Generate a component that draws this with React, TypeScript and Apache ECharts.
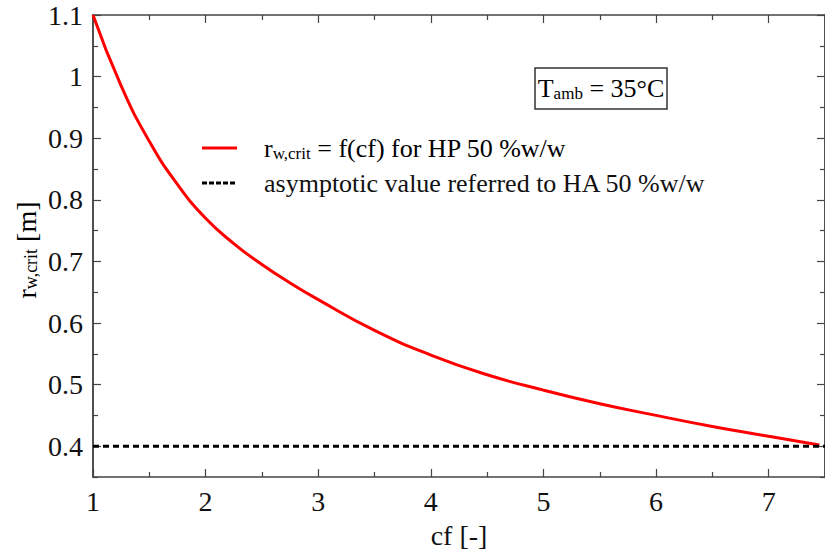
import React, { useEffect, useRef } from "react";
import * as echarts from "echarts";

const cfValues = [1, 1.25, 1.5, 1.75, 2, 2.25, 2.5, 2.75, 3, 3.5, 4, 4.5, 5, 5.5, 6, 6.5, 7, 7.45];
const rwCritValues = [1.1, 0.985, 0.895, 0.825, 0.77, 0.729, 0.695, 0.665, 0.638, 0.588, 0.548, 0.516, 0.491, 0.469, 0.45, 0.432, 0.416, 0.402];
const asymptoteX = [1, 7.5];
const asymptoteY = [0.4, 0.4];
const yMajorTicks = [0.4, 0.5, 0.6, 0.7, 0.8, 0.9, 1, 1.1];
const yMinorTicks = [0.35, 0.45, 0.55, 0.65, 0.75, 0.85, 0.95, 1.05];
const legendLabels = ["r_w,crit = f(cf) for HP 50 %w/w", "asymptotic value referred to HA 50 %w/w"];

const FONT = "Liberation Serif";
const AXIS_COLOR = "#444";
const tickRich = { t: { fontFamily: FONT, fontSize: 28, color: "#111" } };

export default function App() {
  const ref = useRef<HTMLDivElement>(null);
  useEffect(() => {
    if (!ref.current) return;
    const chart = echarts.init(ref.current, null, { renderer: "svg" });
    const yBase = (position: string, ticks: number[], len: number, labels: boolean) => ({
      type: "value",
      position,
      min: 0.35,
      max: 1.1,
      axisLine: { show: true, lineStyle: { color: AXIS_COLOR, width: 1.5 } },
      axisTick: { show: true, inside: true, length: len, customValues: ticks, lineStyle: { color: AXIS_COLOR, width: 1.2 } },
      axisLabel: {
        show: labels,
        customValues: yMajorTicks,
        margin: 10,
        fontFamily: FONT,
        fontSize: 28,
        color: "#111",
        formatter: (v: number) => "{t|" + String(Math.round(v * 10) / 10) + "}",
        rich: tickRich,
      },
      splitLine: { show: false },
    });
    const xBase = (position: string, labels: boolean) => ({
      type: "value",
      position,
      min: 1,
      max: 7.5,
      interval: 1,
      axisLine: { show: true, lineStyle: { color: AXIS_COLOR, width: 1.5 } },
      axisTick: { show: true, inside: true, length: 8, lineStyle: { color: AXIS_COLOR, width: 1.2 } },
      minorTick: { show: true, splitNumber: 2, length: 5, lineStyle: { color: AXIS_COLOR, width: 1.2 } },
      axisLabel: {
        show: labels,
        margin: 10,
        fontFamily: FONT,
        fontSize: 28,
        color: "#111",
        showMaxLabel: false,
        formatter: (v: number) => "{t|" + String(v) + "}",
        rich: tickRich,
      },
      splitLine: { show: false },
      minorSplitLine: { show: false },
    });
    const xAxisBottom: any = xBase("bottom", true);
    xAxisBottom.name = "cf [-]";
    xAxisBottom.nameLocation = "middle";
    xAxisBottom.nameGap = 44;
    xAxisBottom.nameTextStyle = { fontFamily: FONT, fontSize: 28, color: "#111" };

    const legendRich = {
      a: { fontFamily: FONT, fontSize: 26, color: "#111" },
      s: { fontFamily: FONT, fontSize: 17, color: "#111", verticalAlign: "bottom", padding: [10, 0, 0, 0] },
    };
    const [l1main, l1rest] = legendLabels[0].split(" = ");
    const l1sub = l1main.split("_")[1];

    chart.setOption({
      animation: false,
      textStyle: { fontFamily: FONT },
      grid: { left: 93, top: 15, width: 738, height: 467, containLabel: false },
      xAxis: [xAxisBottom, xBase("top", false)],
      yAxis: [
        yBase("left", yMajorTicks, 8, true),
        yBase("left", yMinorTicks, 5, false),
        yBase("right", yMajorTicks, 8, false),
        yBase("right", yMinorTicks, 5, false),
      ],
      series: [
        {
          name: legendLabels[0],
          type: "line",
          data: cfValues.map((x, i) => [x, rwCritValues[i]]),
          smooth: true,
          showSymbol: false,
          lineStyle: { color: "#ff0000", width: 3 },
          xAxisIndex: 0,
          yAxisIndex: 0,
        },
        {
          name: legendLabels[1],
          type: "line",
          data: asymptoteX.map((x, i) => [x, asymptoteY[i]]),
          showSymbol: false,
          lineStyle: { color: "#000", width: 3, type: [6, 4] },
          xAxisIndex: 0,
          yAxisIndex: 0,
        },
      ],
      graphic: [
        {
          type: "text",
          x: 26,
          y: 250,
          rotation: Math.PI / 2,
          style: {
            text: "{a|r}{s|w,crit}{a| [m]}",
            align: "center",
            verticalAlign: "middle",
            rich: {
              a: { fontFamily: FONT, fontSize: 28, color: "#111" },
              s: { fontFamily: FONT, fontSize: 18, color: "#111", verticalAlign: "bottom", padding: [10, 0, 0, 0] },
            },
          },
        },
        {
          type: "rect",
          shape: { x: 535, y: 68, width: 132, height: 41 },
          style: { fill: "#fff", stroke: "#333", lineWidth: 1.5 },
        },
        {
          type: "text",
          x: 601,
          y: 88,
          style: {
            text: "{a|T}{s|amb}{a| = 35°C}",
            align: "center",
            verticalAlign: "middle",
            rich: legendRich,
          },
        },
        {
          type: "line",
          shape: { x1: 202, y1: 148, x2: 237, y2: 148 },
          style: { stroke: "#ff0000", lineWidth: 3 },
        },
        {
          type: "line",
          shape: { x1: 202, y1: 183, x2: 236, y2: 183 },
          style: { stroke: "#000", lineWidth: 3, lineDash: [5, 2] },
        },
        {
          type: "text",
          x: 264,
          y: 148,
          style: {
            text: `{a|r}{s|${l1sub}}{a| = ${l1rest}}`,
            align: "left",
            verticalAlign: "middle",
            rich: legendRich,
          },
        },
        {
          type: "text",
          x: 264,
          y: 183,
          style: {
            text: legendLabels[1],
            align: "left",
            verticalAlign: "middle",
            fontFamily: FONT,
            fontSize: 26,
            fill: "#111",
          },
        },
      ],
    });
    return () => chart.dispose();
  }, []);
  return (
    <div
      ref={ref}
      style={{ position: "fixed", left: 0, top: 0, width: 825, height: 554, background: "#fff" }}
    />
  );
}
